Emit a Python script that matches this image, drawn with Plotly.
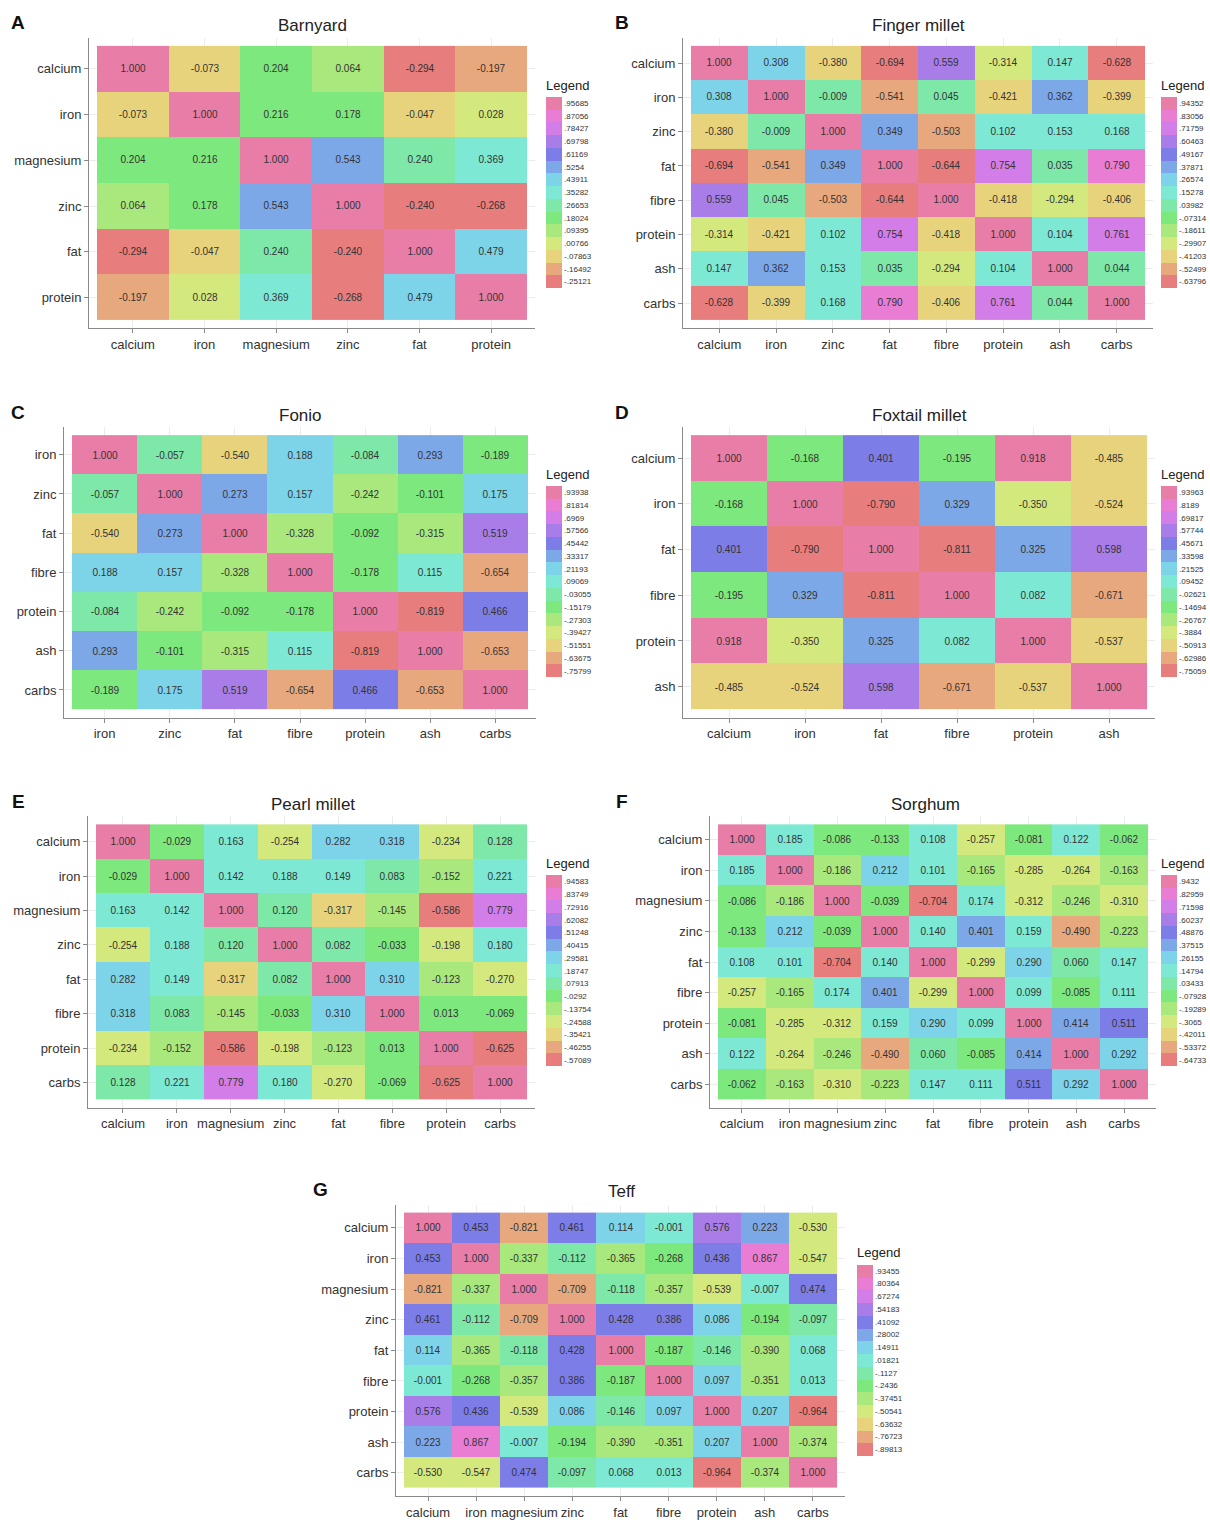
import plotly.graph_objects as go

# ---------------- data ----------------
barnyard_vars = ["calcium", "iron", "magnesium", "zinc", "fat", "protein"]
barnyard_corr = [
    [1.000, -0.073, 0.204, 0.064, -0.294, -0.197],
    [-0.073, 1.000, 0.216, 0.178, -0.047, 0.028],
    [0.204, 0.216, 1.000, 0.543, 0.240, 0.369],
    [0.064, 0.178, 0.543, 1.000, -0.240, -0.268],
    [-0.294, -0.047, 0.240, -0.240, 1.000, 0.479],
    [-0.197, 0.028, 0.369, -0.268, 0.479, 1.000],
]
barnyard_legend = [".95685", ".87056", ".78427", ".69798", ".61169", ".5254", ".43911", ".35282",
                   ".26653", ".18024", ".09395", ".00766", "-.07863", "-.16492", "-.25121"]

finger_vars = ["calcium", "iron", "zinc", "fat", "fibre", "protein", "ash", "carbs"]
finger_corr = [
    [1.000, 0.308, -0.380, -0.694, 0.559, -0.314, 0.147, -0.628],
    [0.308, 1.000, -0.009, -0.541, 0.045, -0.421, 0.362, -0.399],
    [-0.380, -0.009, 1.000, 0.349, -0.503, 0.102, 0.153, 0.168],
    [-0.694, -0.541, 0.349, 1.000, -0.644, 0.754, 0.035, 0.790],
    [0.559, 0.045, -0.503, -0.644, 1.000, -0.418, -0.294, -0.406],
    [-0.314, -0.421, 0.102, 0.754, -0.418, 1.000, 0.104, 0.761],
    [0.147, 0.362, 0.153, 0.035, -0.294, 0.104, 1.000, 0.044],
    [-0.628, -0.399, 0.168, 0.790, -0.406, 0.761, 0.044, 1.000],
]
finger_legend = [".94352", ".83056", ".71759", ".60463", ".49167", ".37871", ".26574", ".15278",
                 ".03982", "-.07314", "-.18611", "-.29907", "-.41203", "-.52499", "-.63796"]

fonio_vars = ["iron", "zinc", "fat", "fibre", "protein", "ash", "carbs"]
fonio_corr = [
    [1.000, -0.057, -0.540, 0.188, -0.084, 0.293, -0.189],
    [-0.057, 1.000, 0.273, 0.157, -0.242, -0.101, 0.175],
    [-0.540, 0.273, 1.000, -0.328, -0.092, -0.315, 0.519],
    [0.188, 0.157, -0.328, 1.000, -0.178, 0.115, -0.654],
    [-0.084, -0.242, -0.092, -0.178, 1.000, -0.819, 0.466],
    [0.293, -0.101, -0.315, 0.115, -0.819, 1.000, -0.653],
    [-0.189, 0.175, 0.519, -0.654, 0.466, -0.653, 1.000],
]
fonio_legend = [".93938", ".81814", ".6969", ".57566", ".45442", ".33317", ".21193", ".09069",
                "-.03055", "-.15179", "-.27303", "-.39427", "-.51551", "-.63675", "-.75799"]

foxtail_vars = ["calcium", "iron", "fat", "fibre", "protein", "ash"]
foxtail_corr = [
    [1.000, -0.168, 0.401, -0.195, 0.918, -0.485],
    [-0.168, 1.000, -0.790, 0.329, -0.350, -0.524],
    [0.401, -0.790, 1.000, -0.811, 0.325, 0.598],
    [-0.195, 0.329, -0.811, 1.000, 0.082, -0.671],
    [0.918, -0.350, 0.325, 0.082, 1.000, -0.537],
    [-0.485, -0.524, 0.598, -0.671, -0.537, 1.000],
]
foxtail_legend = [".93963", ".8189", ".69817", ".57744", ".45671", ".33598", ".21525", ".09452",
                  "-.02621", "-.14694", "-.26767", "-.3884", "-.50913", "-.62986", "-.75059"]

pearl_vars = ["calcium", "iron", "magnesium", "zinc", "fat", "fibre", "protein", "carbs"]
pearl_corr = [
    [1.000, -0.029, 0.163, -0.254, 0.282, 0.318, -0.234, 0.128],
    [-0.029, 1.000, 0.142, 0.188, 0.149, 0.083, -0.152, 0.221],
    [0.163, 0.142, 1.000, 0.120, -0.317, -0.145, -0.586, 0.779],
    [-0.254, 0.188, 0.120, 1.000, 0.082, -0.033, -0.198, 0.180],
    [0.282, 0.149, -0.317, 0.082, 1.000, 0.310, -0.123, -0.270],
    [0.318, 0.083, -0.145, -0.033, 0.310, 1.000, 0.013, -0.069],
    [-0.234, -0.152, -0.586, -0.198, -0.123, 0.013, 1.000, -0.625],
    [0.128, 0.221, 0.779, 0.180, -0.270, -0.069, -0.625, 1.000],
]
pearl_legend = [".94583", ".83749", ".72916", ".62082", ".51248", ".40415", ".29581", ".18747",
                ".07913", "-.0292", "-.13754", "-.24588", "-.35421", "-.46255", "-.57089"]

sorghum_vars = ["calcium", "iron", "magnesium", "zinc", "fat", "fibre", "protein", "ash", "carbs"]
sorghum_corr = [
    [1.000, 0.185, -0.086, -0.133, 0.108, -0.257, -0.081, 0.122, -0.062],
    [0.185, 1.000, -0.186, 0.212, 0.101, -0.165, -0.285, -0.264, -0.163],
    [-0.086, -0.186, 1.000, -0.039, -0.704, 0.174, -0.312, -0.246, -0.310],
    [-0.133, 0.212, -0.039, 1.000, 0.140, 0.401, 0.159, -0.490, -0.223],
    [0.108, 0.101, -0.704, 0.140, 1.000, -0.299, 0.290, 0.060, 0.147],
    [-0.257, -0.165, 0.174, 0.401, -0.299, 1.000, 0.099, -0.085, 0.111],
    [-0.081, -0.285, -0.312, 0.159, 0.290, 0.099, 1.000, 0.414, 0.511],
    [0.122, -0.264, -0.246, -0.490, 0.060, -0.085, 0.414, 1.000, 0.292],
    [-0.062, -0.163, -0.310, -0.223, 0.147, 0.111, 0.511, 0.292, 1.000],
]
sorghum_legend = [".9432", ".82959", ".71598", ".60237", ".48876", ".37515", ".26155", ".14794",
                  ".03433", "-.07928", "-.19289", "-.3065", "-.42011", "-.53372", "-.64733"]

teff_vars = ["calcium", "iron", "magnesium", "zinc", "fat", "fibre", "protein", "ash", "carbs"]
teff_corr = [
    [1.000, 0.453, -0.821, 0.461, 0.114, -0.001, 0.576, 0.223, -0.530],
    [0.453, 1.000, -0.337, -0.112, -0.365, -0.268, 0.436, 0.867, -0.547],
    [-0.821, -0.337, 1.000, -0.709, -0.118, -0.357, -0.539, -0.007, 0.474],
    [0.461, -0.112, -0.709, 1.000, 0.428, 0.386, 0.086, -0.194, -0.097],
    [0.114, -0.365, -0.118, 0.428, 1.000, -0.187, -0.146, -0.390, 0.068],
    [-0.001, -0.268, -0.357, 0.386, -0.187, 1.000, 0.097, -0.351, 0.013],
    [0.576, 0.436, -0.539, 0.086, -0.146, 0.097, 1.000, 0.207, -0.964],
    [0.223, 0.867, -0.007, -0.194, -0.390, -0.351, 0.207, 1.000, -0.374],
    [-0.530, -0.547, 0.474, -0.097, 0.068, 0.013, -0.964, -0.374, 1.000],
]
teff_legend = [".93455", ".80364", ".67274", ".54183", ".41092", ".28002", ".14911", ".01821",
               "-.1127", "-.2436", "-.37451", "-.50541", "-.63632", "-.76723", "-.89813"]

# ---------------- styling ----------------
W, H = 1210, 1520
FONT = "Liberation Sans, Arial, sans-serif"
AXIS_GREY = "#8a8a8a"
GRID_GREY = "#ececec"

# 15 hue bands (low = red ... high = pink)
PALETTE = ["#E87D7D", "#E8A87D", "#E8D37D", "#D3E87D", "#A8E87D", "#7DE87D", "#7DE8A8", "#7DE8D3",
           "#7DD3E8", "#7DA8E8", "#7D7DE8", "#A87DE8", "#D37DE8", "#E87DD3", "#E87DA8"]
NB = len(PALETTE)
colorscale = []
for i, c in enumerate(PALETTE):
    colorscale.append([i / NB, c])
    colorscale.append([(i + 1) / NB, c])


def px_x(x):
    return x / W


def px_y(y):
    return 1 - y / H


# panel: (letter, title, vars, corr, legend labels,
#         box px (x0, x1, y0, y1), letter pos, title pos, legend px (x, ytop of blocks))
panels = [
    ("A", "Barnyard", barnyard_vars, barnyard_corr, barnyard_legend,
     (89, 535, 38, 329), (18, 23), (312, 26), (546, 96)),
    ("B", "Finger millet", finger_vars, finger_corr, finger_legend,
     (683, 1153, 38, 329), (622, 23), (918, 26), (1161, 96)),
    ("C", "Fonio", fonio_vars, fonio_corr, fonio_legend,
     (64, 536, 428, 719), (18, 413), (300, 416), (546, 486)),
    ("D", "Foxtail millet", foxtail_vars, foxtail_corr, foxtail_legend,
     (683, 1155, 428, 719), (622, 413), (919, 416), (1161, 486)),
    ("E", "Pearl millet", pearl_vars, pearl_corr, pearl_legend,
     (88, 535, 818, 1110), (18, 803), (313, 806), (546, 876)),
    ("F", "Sorghum", sorghum_vars, sorghum_corr, sorghum_legend,
     (710, 1156, 818, 1110), (622, 803), (925, 806), (1161, 876)),
    ("G", "Teff", teff_vars, teff_corr, teff_legend,
     (396, 845, 1207, 1499), (320, 1192), (621, 1194), (857, 1266)),
]

PAD = 8          # px between the axis box and the tiles
LEG_BLOCKS = 192  # px height of the colour blocks
LEG_TITLE = 19    # px taken by the "Legend" title above the blocks
LEG_THICK = 16

fig = go.Figure()
annotations = []

for k, (letter, title, names, corr, leg, box, lpos, tpos, legpos) in enumerate(panels, start=1):
    n = len(names)
    x0, x1, y0, y1 = box
    cell_w = (x1 - x0 - 2 * PAD) / n
    cell_h = (y1 - y0 - 2 * PAD) / n
    padx = PAD / cell_w
    pady = PAD / cell_h

    centers = [float(s) for s in leg]
    step = (centers[0] - centers[-1]) / (NB - 1)
    zmin = centers[-1] - step / 2
    zmax = centers[0] + step / 2

    xa = "x" if k == 1 else f"x{k}"
    ya = "y" if k == 1 else f"y{k}"

    fig.add_trace(go.Heatmap(
        z=corr, x=list(range(n)), y=list(range(n)),
        xaxis=xa, yaxis=ya,
        zmin=zmin, zmax=zmax, colorscale=colorscale,
        texttemplate="%{z:.3f}",
        textfont=dict(family=FONT, size=10, color="#333333"),
        hovertemplate="%{z:.3f}<extra></extra>",
        colorbar=dict(
            title=dict(text="Legend", side="top", font=dict(family=FONT, size=13, color="#222222")),
            x=px_x(legpos[0]), xanchor="left", xpad=0,
            y=px_y(legpos[1] - LEG_TITLE), yanchor="top", ypad=0,
            len=LEG_BLOCKS + LEG_TITLE, lenmode="pixels",
            thickness=LEG_THICK, thicknessmode="pixels",
            outlinewidth=0, ticks="", ticklen=0,
            tickvals=centers, ticktext=leg,
            tickfont=dict(family=FONT, size=8, color="#333333"),
        ),
    ))

    axis_common = dict(
        showline=True, linecolor=AXIS_GREY, linewidth=1,
        ticks="outside", ticklen=4, tickcolor=AXIS_GREY,
        showgrid=True, gridcolor=GRID_GREY, gridwidth=1,
        zeroline=False, tickvals=list(range(n)), ticktext=names,
        tickfont=dict(family=FONT, size=13, color="#333333"),
        tickangle=0, fixedrange=True,
    )
    fig.layout[("xaxis" if k == 1 else f"xaxis{k}")] = dict(
        axis_common, domain=[px_x(x0), px_x(x1)],
        range=[-0.5 - padx, n - 0.5 + padx], anchor=ya,
    )
    fig.layout[("yaxis" if k == 1 else f"yaxis{k}")] = dict(
        axis_common, domain=[px_y(y1), px_y(y0)],
        range=[n - 0.5 + pady, -0.5 - pady], anchor=xa,
    )

    annotations.append(dict(
        text=f"<b>{letter}</b>", x=px_x(lpos[0]), y=px_y(lpos[1]),
        xref="paper", yref="paper", xanchor="center", yanchor="middle",
        showarrow=False, font=dict(family=FONT, size=19, color="#111111"),
    ))
    annotations.append(dict(
        text=title, x=px_x(tpos[0]), y=px_y(tpos[1]),
        xref="paper", yref="paper", xanchor="center", yanchor="middle",
        showarrow=False, font=dict(family=FONT, size=17, color="#222222"),
    ))

fig.update_layout(
    width=W, height=H,
    margin=dict(l=0, r=0, t=0, b=0),
    paper_bgcolor="white", plot_bgcolor="white",
    annotations=annotations,
    font=dict(family=FONT),
)

fig.write_html("out.html")
